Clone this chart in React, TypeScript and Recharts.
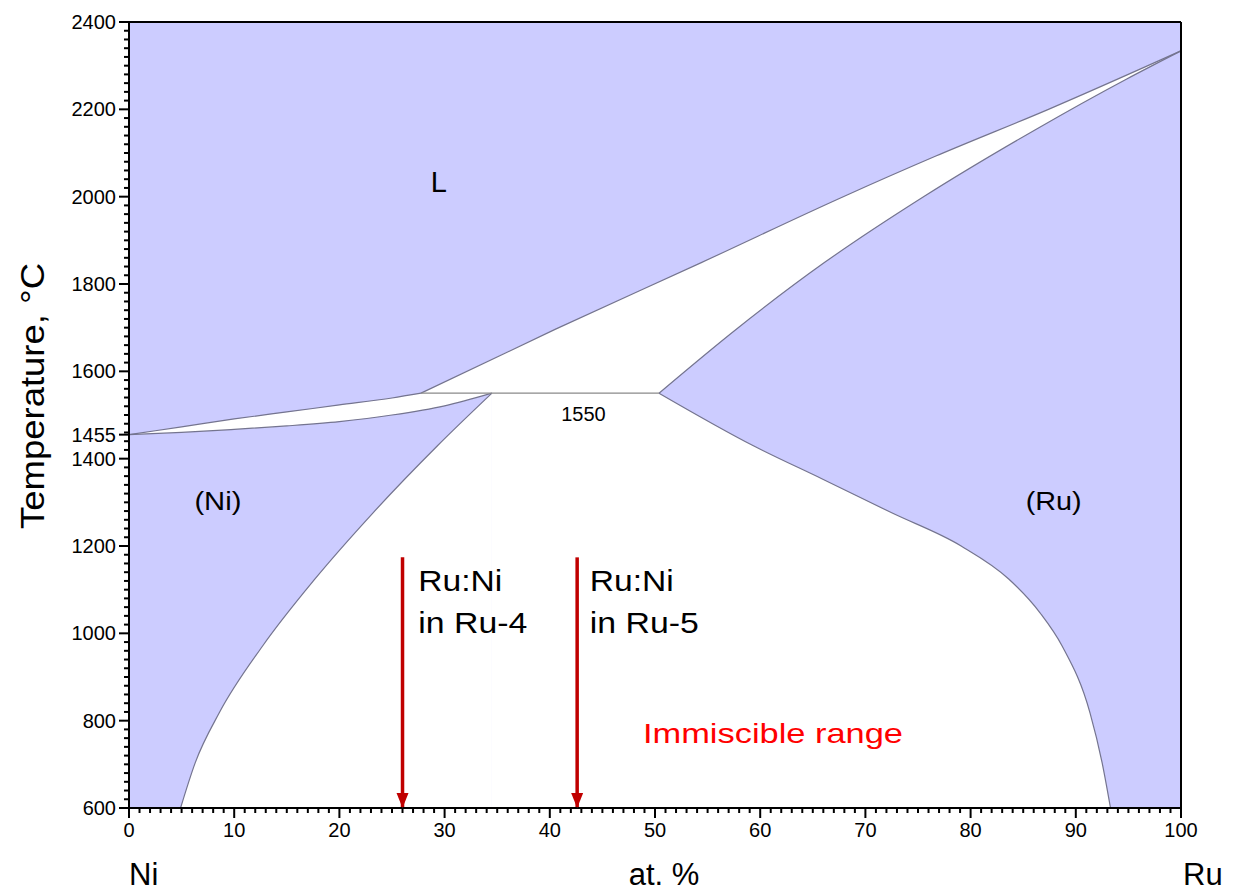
import { ComposedChart, Area, Line, XAxis, YAxis, CartesianGrid, ReferenceDot } from "recharts"

const FONT = "'Liberation Sans', Arial, sans-serif"
const BLUE = "#ccccff"
const EDGE = "#74748f"
const RED = "#c00000"

// phase boundaries, x = at.% Ru, t = temperature in °C
const liquidusNi = [
  { x: 0, t: 1455 }, { x: 5, t: 1473 }, { x: 10, t: 1491 }, { x: 15, t: 1507 },
  { x: 20, t: 1523 }, { x: 25, t: 1539 }, { x: 27.76, t: 1550 },
]
const liquidusRu = [
  { x: 27.76, t: 1550 }, { x: 40.5, t: 1696 }, { x: 54.4, t: 1849 }, { x: 68, t: 2001 },
  { x: 76.7, t: 2093 }, { x: 87.4, t: 2200 }, { x: 100, t: 2334 },
]
const solidusNi = [
  { x: 0, t: 1455 }, { x: 5, t: 1460 }, { x: 10, t: 1467 }, { x: 15, t: 1475 },
  { x: 20, t: 1485 }, { x: 25, t: 1500 }, { x: 30, t: 1521 }, { x: 34.5, t: 1550 },
]
const solvusNi = [
  { x: 4.9, t: 600 }, { x: 6.3, t: 704 }, { x: 8.58, t: 818 }, { x: 12.7, t: 971 },
  { x: 17.66, t: 1124 }, { x: 23.2, t: 1276 }, { x: 29.3, t: 1429 }, { x: 34.5, t: 1550 },
]
const solidusRu = [
  { x: 50.38, t: 1550 }, { x: 57.7, t: 1696 }, { x: 66.1, t: 1849 }, { x: 75.6, t: 2001 },
  { x: 86.2, t: 2154 }, { x: 94.8, t: 2269 }, { x: 100, t: 2334 },
]
const solvusRu = [
  { x: 50.38, t: 1550 }, { x: 59.4, t: 1429 }, { x: 65.95, t: 1353 }, { x: 72.5, t: 1276 },
  { x: 79.1, t: 1200 }, { x: 83.65, t: 1124 }, { x: 86.6, t: 1047 }, { x: 88.7, t: 971 },
  { x: 91.35, t: 818 }, { x: 92.5, t: 704 }, { x: 93.3, t: 600 },
]
const peritectic = [{ x: 27.76, t: 1550 }, { x: 50.38, t: 1550 }]

// compositions of the two alloys
const arrowRu4 = [{ x: 26, t: 1174 }, { x: 26, t: 600 }]
const arrowRu5 = [{ x: 42.6, t: 1174 }, { x: 42.6, t: 600 }]

// ticks
const xMajor = [0, 10, 20, 30, 40, 50, 60, 70, 80, 90, 100]
const yMajor = [600, 800, 1000, 1200, 1400, 1600, 1800, 2000, 2200, 2400]
const yMarked = [1455]
const xMinor = Array.from({ length: 101 }, (_, i) => i)
const yMinor = Array.from({ length: 91 }, (_, i) => 600 + i * 20)
const yLeftTicks = [...yMinor, ...yMarked].sort((a, b) => a - b)
const yRightTicks = [...yMinor, 2334].sort((a, b) => a - b)

// text placed inside the diagram
const regionNotes = [
  { x: 29.45, t: 2010, text: "L", size: 29, width: 0 },
  { x: 8.45, t: 1282, text: "(Ni)", size: 25, width: 47 },
  { x: 87.9, t: 1282, text: "(Ru)", size: 25, width: 56 },
]

const BottomTick = ({ x, y, payload }: any) => {
  const major = xMajor.includes(payload.value)
  return (
    <g>
      <line x1={x} x2={x} y1={y} y2={y + (major ? 10 : 5)} stroke="#000" strokeWidth={2} />
      {major && (
        <text x={x} y={y + 29} textAnchor="middle" fontSize={20} fontFamily={FONT} fill="#000">
          {payload.value}
        </text>
      )}
    </g>
  )
}

const TopTick = ({ x, y, payload }: any) => {
  const major = xMajor.includes(payload.value)
  return <line x1={x} x2={x} y1={y} y2={y - (major ? 10 : 5)} stroke="#000" strokeWidth={2} />
}

const LeftTick = ({ x, y, payload }: any) => {
  const v = payload.value
  const major = yMajor.includes(v) || yMarked.includes(v)
  return (
    <g>
      <line x1={x} x2={x - (major ? 10 : 5)} y1={y} y2={y} stroke="#000" strokeWidth={2} />
      {major && (
        <text x={x - 13} y={y + 7} textAnchor="end" fontSize={20} fontFamily={FONT} fill="#000">
          {v}
        </text>
      )}
    </g>
  )
}

const RightTick = ({ x, y, payload }: any) => {
  const v = payload.value
  if (v === 2334) {
    return (
      <text x={x + 18} y={y + 29} fontSize={20} fontFamily={FONT} fill="#000">
        {v}
      </text>
    )
  }
  const major = yMajor.includes(v)
  return <line x1={x} x2={x + (major ? 10 : 5)} y1={y} y2={y} stroke="#000" strokeWidth={2} />
}

const yTitle = ({ viewBox }: any) => {
  const cx = viewBox.x + 24
  const cy = viewBox.y + viewBox.height / 2 - 19
  return (
    <text
      x={cx}
      y={cy}
      transform={`rotate(-90 ${cx} ${cy})`}
      textAnchor="middle"
      dominantBaseline="central"
      fontSize={34}
      fontFamily={FONT}
      fill="#000"
      textLength={266}
      lengthAdjust="spacingAndGlyphs"
    >
      Temperature, °C
    </text>
  )
}

const xTitle = ({ viewBox }: any) => (
  <g fontFamily={FONT} fontSize={31} fill="#000">
    <text x={viewBox.x} y={viewBox.y + 77}>Ni</text>
    <text x={viewBox.x + viewBox.width / 2 + 9} y={viewBox.y + 77} textAnchor="middle">
      at. %
    </text>
    <text x={viewBox.x + viewBox.width + 2} y={viewBox.y + 77}>Ru</text>
  </g>
)

const arrowHead = (p: any) =>
  p.index === 1 ? (
    <path
      key={`head-${p.index}`}
      d={`M${p.cx - 6},${p.cy - 15}L${p.cx + 6},${p.cy - 15}L${p.cx},${p.cy}Z`}
      fill={RED}
    />
  ) : (
    <g key={`head-${p.index}`} />
  )

const alloyNote = (label: string) => (p: any) => (
  <g fontFamily={FONT} fontSize={29} fill="#000">
    <text x={p.cx} y={p.cy} textLength={84} lengthAdjust="spacingAndGlyphs">Ru:Ni</text>
    <text x={p.cx} y={p.cy + 42} textLength={109} lengthAdjust="spacingAndGlyphs">{label}</text>
  </g>
)

export default function App() {
  const ids = { xAxisId: "b", yAxisId: "l" }
  return (
    <ComposedChart width={1233} height={884} margin={{ top: 0, right: 0, bottom: 0, left: 0 }}>
      <CartesianGrid {...ids} horizontal={false} vertical={false} fill={BLUE} fillOpacity={1} />
      <XAxis
        xAxisId="b"
        dataKey="x"
        type="number"
        domain={[0, 100]}
        ticks={xMinor}
        interval={0}
        height={84}
        tickSize={0}
        tickMargin={0}
        tickLine={false}
        tick={BottomTick}
        axisLine={{ stroke: "#000", strokeWidth: 2 }}
        label={xTitle}
      />
      <XAxis
        xAxisId="t"
        orientation="top"
        dataKey="x"
        type="number"
        domain={[0, 100]}
        ticks={xMinor}
        interval={0}
        height={14}
        tickSize={0}
        tickMargin={0}
        tickLine={false}
        tick={TopTick}
        axisLine={{ stroke: "#000", strokeWidth: 2 }}
      />
      <YAxis
        yAxisId="l"
        type="number"
        domain={[600, 2400]}
        ticks={yLeftTicks}
        interval={0}
        width={121}
        tickSize={0}
        tickMargin={0}
        tickLine={false}
        tick={LeftTick}
        axisLine={{ stroke: "#000", strokeWidth: 2 }}
        label={yTitle}
      />
      <YAxis
        yAxisId="r"
        orientation="right"
        type="number"
        domain={[600, 2400]}
        ticks={yRightTicks}
        interval={0}
        width={60}
        tickSize={0}
        tickMargin={0}
        tickLine={false}
        tick={RightTick}
        axisLine={{ stroke: "#000", strokeWidth: 2 }}
      />

      <Area {...ids} data={liquidusNi} dataKey="t" type="monotone" baseValue={600} fill="#fff" fillOpacity={1} stroke="none" isAnimationActive={false} />
      <Area {...ids} data={liquidusRu} dataKey="t" type="monotone" baseValue={600} fill="#fff" fillOpacity={1} stroke="none" isAnimationActive={false} />
      <Area {...ids} data={solidusNi} dataKey="t" type="monotone" baseValue={600} fill={BLUE} fillOpacity={1} stroke="none" isAnimationActive={false} />
      <Area {...ids} data={solvusNi} dataKey="t" type="monotone" baseValue={600} fill="#fff" fillOpacity={1} stroke="none" isAnimationActive={false} />
      <Area {...ids} data={solidusRu} dataKey="t" type="monotone" baseValue={600} fill={BLUE} fillOpacity={1} stroke="none" isAnimationActive={false} />
      <Area {...ids} data={solvusRu} dataKey="t" type="monotone" baseValue={600} fill="#fff" fillOpacity={1} stroke="none" isAnimationActive={false} />

      <Line {...ids} data={liquidusNi} dataKey="t" type="monotone" stroke={EDGE} strokeWidth={1.2} dot={false} isAnimationActive={false} />
      <Line {...ids} data={liquidusRu} dataKey="t" type="monotone" stroke={EDGE} strokeWidth={1.2} dot={false} isAnimationActive={false} />
      <Line {...ids} data={solidusNi} dataKey="t" type="monotone" stroke={EDGE} strokeWidth={1.2} dot={false} isAnimationActive={false} />
      <Line {...ids} data={solvusNi} dataKey="t" type="monotone" stroke={EDGE} strokeWidth={1.2} dot={false} isAnimationActive={false} />
      <Line {...ids} data={solidusRu} dataKey="t" type="monotone" stroke={EDGE} strokeWidth={1.2} dot={false} isAnimationActive={false} />
      <Line {...ids} data={solvusRu} dataKey="t" type="monotone" stroke={EDGE} strokeWidth={1.2} dot={false} isAnimationActive={false} />
      <Line {...ids} data={peritectic} dataKey="t" type="linear" stroke="#8a8a8a" strokeWidth={1.2} dot={false} isAnimationActive={false} />

      <Line {...ids} data={arrowRu4} dataKey="t" type="linear" stroke={RED} strokeWidth={3.5} dot={arrowHead} isAnimationActive={false} />
      <Line {...ids} data={arrowRu5} dataKey="t" type="linear" stroke={RED} strokeWidth={3.5} dot={arrowHead} isAnimationActive={false} />

      {regionNotes.map((n) => (
        <ReferenceDot
          key={n.text}
          {...ids}
          x={n.x}
          y={n.t}
          r={0}
          shape={(p: any) => (
            <text
              x={p.cx}
              y={p.cy}
              textAnchor="middle"
              fontSize={n.size}
              fontFamily={FONT}
              fill="#000"
              {...(n.width ? { textLength: n.width, lengthAdjust: "spacingAndGlyphs" } : {})}
            >
              {n.text}
            </text>
          )}
        />
      ))}
      <ReferenceDot
        {...ids}
        x={43.2}
        y={1486}
        r={0}
        shape={(p: any) => (
          <text x={p.cx} y={p.cy} textAnchor="middle" fontSize={20} fontFamily={FONT} fill="#000">
            1550
          </text>
        )}
      />
      <ReferenceDot {...ids} x={27.5} y={1097} r={0} shape={alloyNote("in Ru-4")} />
      <ReferenceDot {...ids} x={43.8} y={1097} r={0} shape={alloyNote("in Ru-5")} />
      <ReferenceDot
        {...ids}
        x={48.86}
        y={750}
        r={0}
        shape={(p: any) => (
          <text x={p.cx} y={p.cy} fontSize={28} fontFamily={FONT} fill="#ff0000" textLength={260} lengthAdjust="spacingAndGlyphs">
            Immiscible range
          </text>
        )}
      />
    </ComposedChart>
  )
}
